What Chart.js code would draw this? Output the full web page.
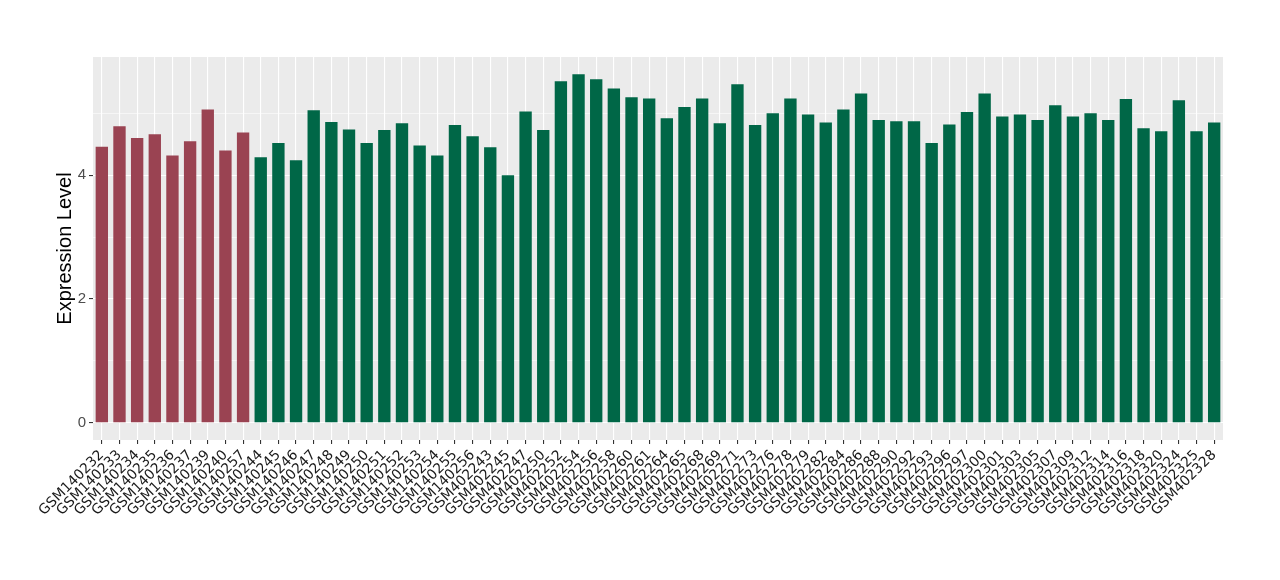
<!DOCTYPE html>
<html>
<head>
<meta charset="utf-8">
<script src="https://cdn.jsdelivr.net/npm/chart.js@4"></script>
<style>
  html, body { margin: 0; padding: 0; background: #ffffff; }
  #wrap { width: 1280px; height: 580px; }
</style>
</head>
<body>
<div id="wrap"><canvas id="c" width="1280" height="580"></canvas></div>
<script>
const categories = [
  "GSM140232","GSM140233","GSM140234","GSM140235","GSM140236","GSM140237","GSM140239","GSM140240","GSM140257",
  "GSM140244","GSM140245","GSM140246","GSM140247","GSM140248","GSM140249","GSM140250","GSM140251","GSM140252",
  "GSM140253","GSM140254","GSM140255","GSM140256",
  "GSM402243","GSM402245","GSM402247","GSM402250","GSM402252","GSM402254","GSM402256","GSM402258","GSM402260",
  "GSM402261","GSM402264","GSM402265","GSM402268","GSM402269","GSM402271","GSM402273","GSM402276","GSM402278",
  "GSM402279","GSM402282","GSM402284","GSM402286","GSM402288","GSM402290","GSM402292","GSM402293","GSM402296",
  "GSM402297","GSM402300","GSM402301","GSM402303","GSM402305","GSM402307","GSM402309","GSM402312","GSM402314",
  "GSM402316","GSM402318","GSM402320","GSM402324","GSM402325","GSM402328"
];
const values = [
  4.46,4.79,4.60,4.66,4.32,4.55,5.06,4.40,4.69,
  4.29,4.52,4.24,5.05,4.86,4.74,4.52,4.73,4.84,
  4.48,4.32,4.81,4.63,
  4.45,4.00,5.03,4.73,5.52,5.63,5.55,5.40,5.26,
  5.24,4.92,5.10,5.24,4.84,5.47,4.81,5.00,5.24,
  4.98,4.85,5.06,5.32,4.89,4.87,4.87,4.52,4.82,
  5.02,5.32,4.95,4.98,4.89,5.13,4.95,5.00,4.89,
  5.23,4.76,4.71,5.21,4.71,4.85
];
// group: 0 = first group (red), 1 = second group (green)
const groups = [
  0,0,0,0,0,0,0,0,0,
  1,1,1,1,1,1,1,1,1,1,1,1,1,
  1,1,1,1,1,1,1,1,1,1,1,1,1,1,1,1,1,1,1,1,1,1,1,1,1,1,1,1,1,1,1,1,1,1,1,1,1,1,1,1,1,1
];
const groupColors = ["#9A4352", "#006747"];
const yTicks = [0, 1, 2, 3, 4, 5];
const yLabeled = [0, 2, 4];
const yMin = -0.28, yMax = 5.91;

const panelBg = {
  id: 'panelBg',
  beforeDraw(chart) {
    const a = chart.chartArea, ctx = chart.ctx;
    ctx.save();
    ctx.fillStyle = '#EBEBEB';
    ctx.fillRect(a.left, a.top, a.right - a.left, a.bottom - a.top);
    ctx.restore();
  }
};

new Chart(document.getElementById('c'), {
  type: 'bar',
  data: {
    labels: categories,
    datasets: [{
      data: values,
      backgroundColor: groups.map(g => groupColors[g]),
      borderWidth: 0,
      barPercentage: 0.7,
      categoryPercentage: 1.0
    }]
  },
  options: {
    responsive: false,
    animation: false,
    events: [],
    layout: { padding: { left: 0, right: 57, top: 57, bottom: 0 } },
    plugins: { legend: { display: false }, tooltip: { enabled: false } },
    scales: {
      x: {
        offset: true,
        border: { display: false },
        grid: {
          offset: false,
          color: '#FFFFFF',
          lineWidth: 1.1,
          tickColor: '#333333',
          tickLength: 4,
          drawOnChartArea: true
        },
        ticks: {
          autoSkip: false,
          maxRotation: 45,
          minRotation: 45,
          padding: 3,
          color: '#1A1A1A',
          font: { family: '"DejaVu Sans", sans-serif', size: 14 }
        },
        afterFit(scale) { scale.height = 140; }
      },
      y: {
        min: yMin,
        max: yMax,
        border: { display: false },
        afterBuildTicks(scale) { scale.ticks = yTicks.map(v => ({ value: v })); },
        grid: {
          color: '#FFFFFF',
          lineWidth: ctx => (yLabeled.includes(ctx.tick && ctx.tick.value) ? 1.1 : 0.55),
          tickColor: ctx => (yLabeled.includes(ctx.tick && ctx.tick.value) ? '#333333' : 'rgba(0,0,0,0)'),
          tickLength: 4
        },
        ticks: {
          padding: 3,
          color: '#4D4D4D',
          font: { family: 'Liberation Sans, Arial, sans-serif', size: 15 },
          callback: v => (yLabeled.includes(v) ? String(v) : '')
        },
        title: {
          display: true,
          text: 'Expression Level',
          color: '#000000',
          font: { family: 'Liberation Sans, Arial, sans-serif', size: 20 },
          padding: { top: 53, bottom: 0 }
        },
        afterFit(scale) { scale.width = 93; }
      }
    }
  },
  plugins: [panelBg]
});
</script>
</body>
</html>
